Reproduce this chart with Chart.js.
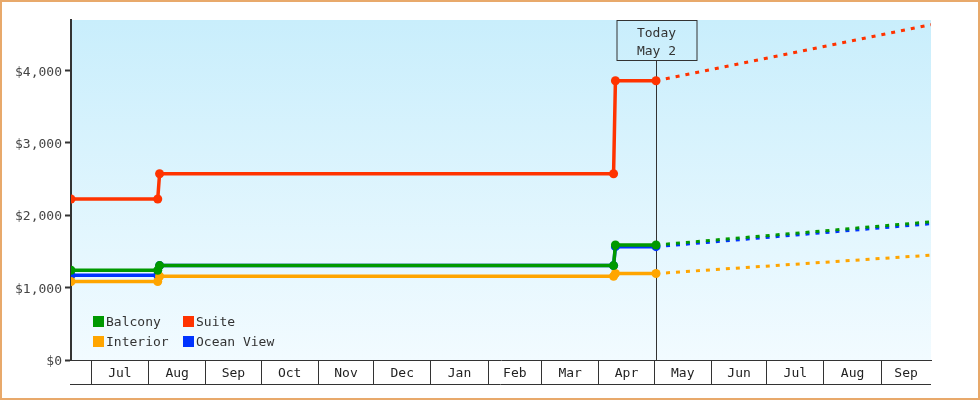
<!DOCTYPE html>
<html>
<head>
<meta charset="utf-8">
<script src="https://cdn.jsdelivr.net/npm/chart.js@4.4.1/dist/chart.umd.min.js"></script>
<style>
  html, body { margin: 0; padding: 0; background: #fff; }
  #wrap { width: 980px; height: 400px; box-sizing: border-box; border: 2px solid #e8a96b; }
  canvas { display: block; }
</style>
</head>
<body>
<div id="wrap"><canvas id="chart" width="976" height="396"></canvas></div>
<script>
// prices at the step dates
const stepDates = ['2023-06-20', '2023-08-06', '2023-08-07', '2024-04-09', '2024-04-10', '2024-05-02'];
const balcony   = [1240, 1240, 1305, 1305, 1590, 1590];
const suite     = [2225, 2225, 2575, 2575, 3860, 3860];
const interior  = [1085, 1085, 1157, 1157, 1195, 1195];
const oceanView = [1170, 1170, 1305, 1305, 1567, 1567];

// forecast from today to the end of the axis
const forecastDates     = ['2024-05-02', '2024-09-28'];
const balconyForecast   = [1590, 1910];
const suiteForecast     = [3860, 4635];
const interiorForecast  = [1195, 1450];
const oceanViewForecast = [1567, 1885];

const monthStarts = ['2023-07-01', '2023-08-01', '2023-09-01', '2023-10-01', '2023-11-01', '2023-12-01',
                     '2024-01-01', '2024-02-01', '2024-03-01', '2024-04-01', '2024-05-01', '2024-06-01',
                     '2024-07-01', '2024-08-01', '2024-09-01'];
const monthLabels = ['Jul', 'Aug', 'Sep', 'Oct', 'Nov', 'Dec', 'Jan', 'Feb', 'Mar', 'Apr', 'May', 'Jun', 'Jul', 'Aug', 'Sep'];
const yTicks = [0, 1000, 2000, 3000, 4000];

const xMin = '2023-06-20';
const xMax = '2024-09-28';
const yMax = 4700;
const todayDate = '2024-05-02';
const todayLabel = ['Today', 'May 2'];

const FONT = '"DejaVu Sans Mono", monospace';
const day = s => Date.parse(s) / 86400000;
const toPoints = (dates, vals) => dates.map((d, i) => ({ x: day(d), y: vals[i] }));

const series = [
    { name: 'Balcony',    color: '#009900', vals: balcony,   fc: balconyForecast },
    { name: 'Suite',      color: '#ff3300', vals: suite,     fc: suiteForecast },
    { name: 'Interior',   color: '#ffa500', vals: interior,  fc: interiorForecast },
    { name: 'Ocean View', color: '#0033ff', vals: oceanView, fc: oceanViewForecast }
];

const solid = series.map(s => ({
    label: s.name,
    data: toPoints(stepDates, s.vals),
    borderColor: s.color,
    backgroundColor: s.color,
    borderWidth: 3.5,
    pointRadius: 4.5,
    pointHoverRadius: 4.5,
    pointBorderWidth: 0,
    tension: 0
}));
const dashed = series.map(s => ({
    label: s.name + ' forecast',
    forecast: true,
    data: toPoints(forecastDates, s.fc),
    borderColor: s.color,
    borderWidth: 3,
    borderDash: [4, 6],
    pointRadius: 0,
    tension: 0
}));

// month boundaries get a tick line, month names sit halfway between
const xTicks = [];
monthStarts.forEach((m, i) => {
    const a = day(m);
    const b = i + 1 < monthStarts.length ? day(monthStarts[i + 1]) : day(xMax);
    xTicks.push({ value: a, name: '' });
    xTicks.push({ value: (a + b) / 2, name: monthLabels[i], mid: true });
});

const plotBackground = {
    id: 'plotBackground',
    beforeDraw(chart) {
        const { ctx, chartArea: a } = chart;
        const g = ctx.createLinearGradient(0, a.top, 0, a.bottom);
        g.addColorStop(0, '#c9eefc');
        g.addColorStop(1, '#f2fbff');
        ctx.save();
        ctx.fillStyle = g;
        ctx.fillRect(a.left, a.top, a.right - a.left, a.bottom - a.top);
        ctx.restore();
    }
};

const todayMarker = {
    id: 'todayMarker',
    beforeDatasetsDraw(chart) {
        const { ctx, chartArea: a } = chart;
        const x = Math.round(chart.scales.x.getPixelForValue(day(todayDate))) + 0.5;
        const top = a.top + 0.5, boxW = 80, boxH = 40;
        ctx.save();
        ctx.strokeStyle = '#333';
        ctx.lineWidth = 1;
        ctx.beginPath();
        ctx.moveTo(x, top + boxH);
        ctx.lineTo(x, a.bottom);
        ctx.stroke();
        ctx.strokeRect(Math.round(x - boxW / 2), top, boxW, boxH);
        ctx.fillStyle = '#333';
        ctx.font = '13px ' + FONT;
        ctx.textAlign = 'center';
        ctx.textBaseline = 'middle';
        ctx.fillText(todayLabel[0], x, top + 13.5);
        ctx.fillText(todayLabel[1], x, top + 31);
        ctx.restore();
    }
};

const cornerLegend = {
    id: 'cornerLegend',
    afterDatasetsDraw(chart) {
        const { ctx, chartArea: a } = chart;
        const items = chart.data.datasets.filter(d => !d.forecast);
        ctx.save();
        ctx.font = '13px ' + FONT;
        ctx.textBaseline = 'middle';
        items.forEach((d, i) => {
            const x = a.left + 22 + (i % 2) * 90;
            const y = a.bottom - 44 + Math.floor(i / 2) * 20;
            ctx.fillStyle = d.borderColor;
            ctx.fillRect(x, y, 11, 11);
            ctx.fillStyle = '#333';
            ctx.fillText(d.label, x + 13, y + 6.5);
        });
        ctx.restore();
    }
};

const bottomRule = {
    id: 'bottomRule',
    afterDraw(chart) {
        const { ctx, chartArea: a } = chart;
        const y = chart.scales.x.bottom - 0.5;
        ctx.save();
        ctx.strokeStyle = '#333';
        ctx.lineWidth = 1;
        ctx.beginPath();
        ctx.moveTo(a.left - 1, y);
        ctx.lineTo(a.right, y);
        ctx.stroke();
        ctx.restore();
    }
};

Chart.defaults.font.family = FONT;
Chart.defaults.font.size = 13;
Chart.defaults.color = '#333';

new Chart(document.getElementById('chart'), {
    type: 'line',
    data: { datasets: solid.concat(dashed) },
    options: {
        responsive: false,
        devicePixelRatio: 1,
        animation: false,
        layout: { padding: { top: 18, right: 47, left: 0, bottom: 13 } },
        scales: {
            x: {
                type: 'linear',
                min: day(xMin),
                max: day(xMax),
                afterBuildTicks: axis => { axis.ticks = xTicks.map(t => ({ ...t })); },
                afterFit: scale => { scale.height = 25; },
                border: { color: '#333', width: 1 },
                grid: {
                    drawOnChartArea: false,
                    tickLength: 25,
                    tickWidth: 1,
                    tickColor: c => (c.tick && c.tick.mid) ? 'rgba(0,0,0,0)' : '#333'
                },
                ticks: {
                    autoSkip: false,
                    maxRotation: 0,
                    padding: -19,
                    color: '#222',
                    callback: (v, i, ticks) => ticks[i].name
                }
            },
            y: {
                min: 0,
                max: yMax,
                afterBuildTicks: axis => { axis.ticks = yTicks.map(v => ({ value: v })); },
                afterFit: scale => { scale.width = 69; },
                border: { color: '#333', width: 2 },
                grid: { drawOnChartArea: false, tickLength: 6, tickWidth: 2, tickColor: '#333' },
                ticks: {
                    padding: 3,
                    labelOffset: 1.5,
                    color: '#444',
                    callback: v => '$' + v.toLocaleString('en-US')
                }
            }
        },
        plugins: {
            legend: { display: false },
            tooltip: { enabled: false }
        }
    },
    plugins: [plotBackground, todayMarker, cornerLegend, bottomRule]
});
</script>
</body>
</html>
